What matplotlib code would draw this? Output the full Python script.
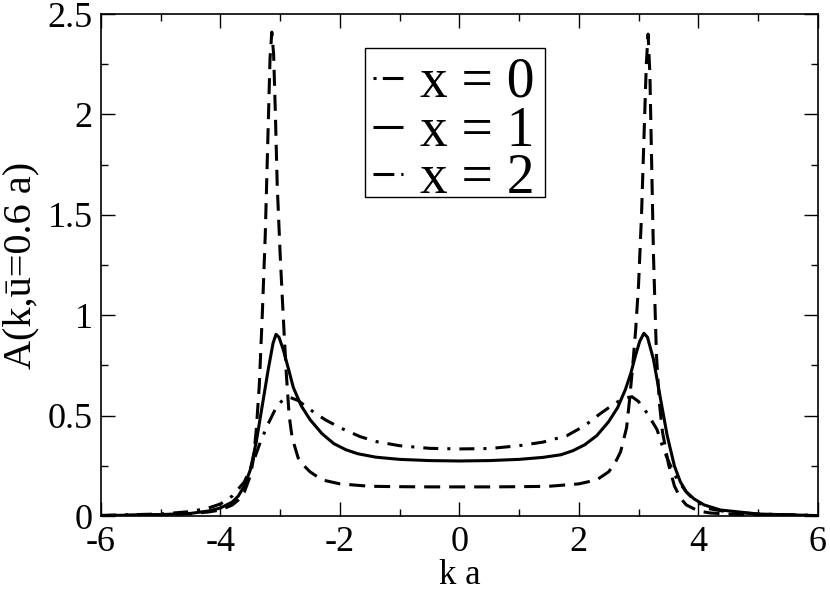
import matplotlib
matplotlib.use("Agg")
from matplotlib import pyplot as plt
from matplotlib.ticker import MultipleLocator, FormatStrFormatter
from matplotlib.patches import Rectangle
import numpy as np

plt.rcParams['font.family'] = ['Liberation Serif', 'DejaVu Serif']
plt.rcParams['axes.unicode_minus'] = False
plt.rcParams['lines.scale_dashes'] = False

# x = 0 curve (dash-dot)
k0 = [-6.0, -5.0, -4.5, -4.2, -4.0, -3.8, -3.6, -3.45, -3.33, -3.2, -3.06, -2.95, -2.83,
      -2.7, -2.5, -2.25, -2.0, -1.66, -1.38, -1.0, -0.5, 0.0, 0.5, 1.0, 1.4, 1.8, 2.1,
      2.36, 2.6, 2.75, 2.89, 3.0, 3.15, 3.31, 3.42, 3.55, 3.65, 3.8, 3.93, 4.15, 4.5,
      5.0, 6.0]
A0 = [0.003, 0.01, 0.022, 0.04, 0.06, 0.1, 0.17, 0.27, 0.37, 0.46, 0.545, 0.58, 0.59,
      0.575, 0.53, 0.48, 0.44, 0.395, 0.37, 0.35, 0.337, 0.334, 0.336, 0.35, 0.368, 0.40, 0.45,
      0.51, 0.56, 0.586, 0.594, 0.57, 0.51, 0.43, 0.33, 0.24, 0.18, 0.12, 0.08, 0.038, 0.02,
      0.01, 0.003]

# x = 1 curve (solid)
k1 = [-6.0, -5.0, -4.5, -4.2, -4.0, -3.8, -3.7, -3.6, -3.5, -3.4, -3.3, -3.2, -3.12,
      -3.07, -3.02, -2.95, -2.85, -2.78, -2.65, -2.5, -2.3, -2.1, -1.9, -1.7, -1.4, -1.0,
      -0.5, 0.0, 0.5, 1.0, 1.4, 1.7, 1.9, 2.1, 2.3, 2.5, 2.65, 2.78, 2.87, 2.95, 3.02,
      3.09, 3.15, 3.25, 3.37, 3.48, 3.6, 3.7, 3.8, 3.93, 4.1, 4.37, 5.0, 6.0]
A1 = [0.002, 0.007, 0.013, 0.025, 0.04, 0.07, 0.1, 0.15, 0.23, 0.37, 0.55, 0.73, 0.86,
      0.905, 0.89, 0.83, 0.72, 0.64, 0.55, 0.48, 0.41, 0.36, 0.33, 0.31, 0.293, 0.282,
      0.276, 0.274, 0.276, 0.282, 0.292, 0.305, 0.325, 0.355, 0.40, 0.47, 0.54, 0.63, 0.71, 0.80, 0.87,
      0.91, 0.89, 0.78, 0.58, 0.40, 0.25, 0.17, 0.12, 0.085, 0.055, 0.03, 0.01, 0.002]

# x = 2 curve (dashed)
k2 = [-6.0, -5.0, -4.5, -4.2, -4.0, -3.8, -3.7, -3.6, -3.5, -3.45, -3.4, -3.35, -3.3,
      -3.25, -3.2, -3.17, -3.14, -3.11, -3.08, -3.05, -3.0, -2.95, -2.9, -2.85, -2.8, -2.7,
      -2.6, -2.5, -2.3, -2.0, -1.5, -1.0, -0.5, 0.0, 0.5, 1.0, 1.5, 2.0, 2.3, 2.5, 2.6,
      2.7, 2.8, 2.85, 2.9, 2.95, 3.0, 3.05, 3.1, 3.13, 3.16, 3.19, 3.22, 3.25, 3.3, 3.35,
      3.4, 3.5, 3.6, 3.7, 3.8, 4.0, 4.2, 4.5, 5.0, 6.0]
A2 = [0.002, 0.006, 0.012, 0.02, 0.03, 0.055, 0.08, 0.12, 0.2, 0.28, 0.43, 0.65, 1.0,
      1.4, 1.95, 2.28, 2.41, 2.3, 2.0, 1.65, 1.3, 1.0, 0.72, 0.5, 0.39, 0.29,
      0.25, 0.22, 0.18, 0.16, 0.148, 0.146, 0.145, 0.145, 0.145, 0.146, 0.148, 0.16, 0.18, 0.22, 0.26,
      0.32, 0.44, 0.58, 0.74, 0.92, 1.15, 1.5, 1.97, 2.25, 2.4, 2.2, 1.75, 1.3, 0.8, 0.56,
      0.42, 0.26, 0.15, 0.09, 0.055, 0.025, 0.015, 0.01, 0.005, 0.002]

legend_labels = ["x = 0", "x = 1", "x = 2"]

dashdot = (0, (10.8, 6.5, 2.2, 6.5))
dashed = (0, (11.5, 6.5))
lw = 2.2

fig = plt.figure(figsize=(8.3, 5.91), dpi=100)
ax = fig.add_axes([0.1217, 0.1269, 0.8635, 0.8494])

ax.plot(k0, A0, color='black', lw=lw, linestyle=dashdot)
ax.plot(k1, A1, color='black', lw=lw, linestyle='-')
ax.plot(k2, A2, color='black', lw=lw, linestyle=dashed)

ax.set_xlim(-6, 6)
ax.set_ylim(0, 2.5)
ax.xaxis.set_major_locator(MultipleLocator(2))
ax.xaxis.set_minor_locator(MultipleLocator(1))
ax.yaxis.set_major_locator(MultipleLocator(0.5))
ax.yaxis.set_minor_locator(MultipleLocator(0.25))
ax.yaxis.set_major_formatter(FormatStrFormatter('%g'))
ax.xaxis.set_major_formatter(FormatStrFormatter('%g'))

ax.tick_params(which='both', direction='in', top=True, right=True, width=1.0)
ax.tick_params(which='major', length=10)
ax.tick_params(which='minor', length=5)
ax.tick_params(axis='x', labelsize=26, pad=7)
ax.tick_params(axis='y', labelsize=26, pad=6)
for s in ax.spines.values():
    s.set_linewidth(1.2)

ax.set_xlabel("k a", fontsize=25)
ax.set_ylabel("A(k,ū=0.6 a)", fontsize=29)
ax.xaxis.set_label_coords(0.5, -0.086)
ax.yaxis.set_label_coords(-0.086, 0.5)

# legend box drawn by hand (mimics the original handles)
ax.add_patch(Rectangle((0.368, 0.635), 0.251, 0.297, transform=ax.transAxes,
                       facecolor='white', edgecolor='black', lw=1.0, zorder=5))
rows = [0.873, 0.775, 0.681]
hstyles = [(0, (2.2, 4.5, 15.0)), '-', (0, (15.0, 5.0, 2.2))]
for ry, st, lab in zip(rows, hstyles, legend_labels):
    ax.plot([0.379, 0.421], [ry, ry], transform=ax.transAxes, color='black',
            lw=lw, linestyle=st, zorder=6, solid_capstyle='butt')
    ax.text(0.445, ry - 0.037, lab, transform=ax.transAxes, fontsize=40,
            va='baseline', ha='left', zorder=6)

fig.savefig("out.png", dpi=100)
